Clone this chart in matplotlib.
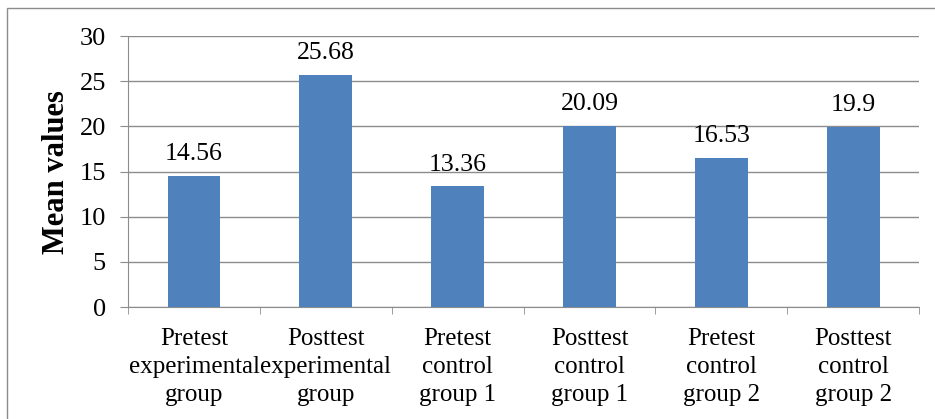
import matplotlib.pyplot as plt
from matplotlib.patches import Rectangle

categories = ["Pretest\nexperimental\ngroup", "Posttest\nexperimental\ngroup",
              "Pretest\ncontrol\ngroup 1", "Posttest\ncontrol\ngroup 1",
              "Pretest\ncontrol\ngroup 2", "Posttest\ncontrol\ngroup 2"]
means = [14.56, 25.68, 13.36, 20.09, 16.53, 19.9]
mean_labels = ["14.56", "25.68", "13.36", "20.09", "16.53", "19.9"]

plt.rcParams['font.family'] = ['Liberation Serif', 'DejaVu Serif']

fig = plt.figure(figsize=(9.35, 4.19), dpi=100)
fig.patches.append(Rectangle((0.0075, -0.05), 1.2, 1.031, transform=fig.transFigure,
                             fill=False, edgecolor='#8c8c8c', linewidth=1.0))
ax = fig.add_axes([0.137, 0.267, 0.846, 0.647])

x = range(len(categories))
ax.bar(x, means, width=0.4, color='#4f81bd', zorder=3)
for i, (v, t) in enumerate(zip(means, mean_labels)):
    ax.text(i, v + 1.2, t, ha='center', va='bottom', fontsize=18.5)

ax.set_xlim(-0.5, 5.5)
ax.set_ylim(0, 30)
ax.set_yticks(range(0, 31, 5))
ax.yaxis.grid(True, color='#8c8c8c', linewidth=1.0, zorder=0)
ax.set_xticks(x)
ax.set_xticklabels(categories, fontsize=18, linespacing=1.35)
ax.set_xticks([i - 0.5 for i in range(7)], minor=True)
ax.tick_params(axis='x', which='major', length=0, pad=15)
ax.tick_params(axis='x', which='minor', length=5, color='#8c8c8c', direction='out')
ax.tick_params(axis='y', labelsize=19, length=6, color='#8c8c8c', pad=10)
for s in ['top', 'right']:
    ax.spines[s].set_visible(False)
for s in ['left', 'bottom']:
    ax.spines[s].set_color('#8c8c8c')
ax.set_ylabel("Mean values", fontsize=22, fontweight='bold', labelpad=6)

fig.savefig("out.png", dpi=100)
